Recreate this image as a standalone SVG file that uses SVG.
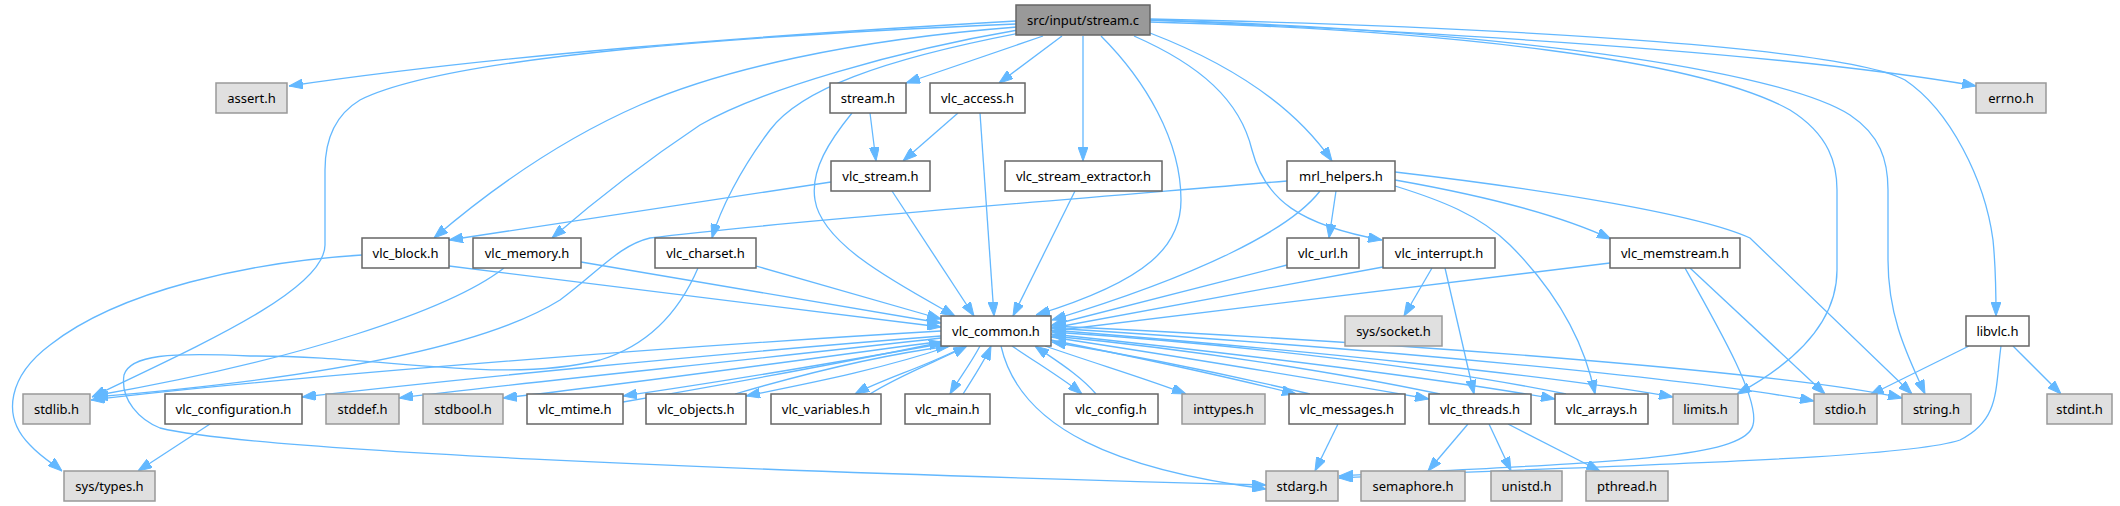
<svg xmlns="http://www.w3.org/2000/svg" width="2120" height="506" viewBox="0 0 2120 506">
<style>
.n rect{fill:#ffffff;stroke:#666666;stroke-width:1.5}
.r rect{fill:#999999;stroke:#666666;stroke-width:1.5}
.x rect{fill:#e0e0e0;stroke:#999999;stroke-width:1.5}
text{font-family:"Noto Sans","Liberation Sans",Arial,sans-serif;font-size:13px;fill:#000;text-anchor:middle}
#edges path{fill:none;stroke:#63b8ff;stroke-width:1.3;marker-end:url(#a)}
</style>
<defs>
<marker id="a" markerWidth="14" markerHeight="10" refX="14" refY="5" orient="auto" markerUnits="userSpaceOnUse">
<path d="M0,0 L14,5 L0,10 z" fill="#63b8ff" stroke="#63b8ff" stroke-width="1"/>
</marker>
</defs>
<rect width="2120" height="506" fill="#ffffff"/>
<g id="edges">
<path d="M1016,21 C750,36 500,55 289,86"/>
<path d="M1016,24 C760,35 450,55 360,100 C335,115 325,140 325,170 L325,245 C325,290 200,345 92,397"/>
<path d="M1017,27 C850,40 720,70 640,105 C560,140 490,190 434,238"/>
<path d="M1018,30 C900,50 760,90 700,125 C640,165 590,205 552,238"/>
<path d="M1020,33 C880,60 800,90 770,130 C740,170 720,210 712,238"/>
<path d="M1043,36 L906,83"/>
<path d="M1062,36 L999,83"/>
<path d="M1083,36 L1083,161"/>
<path d="M1101,36 C1145,80 1181,140 1181,200 C1181,245 1150,280 1036,315"/>
<path d="M1134,36 C1200,65 1240,100 1252,150 C1265,200 1300,225 1382,240"/>
<path d="M1150,33 C1220,60 1290,100 1332,161"/>
<path d="M1150,20 C1500,35 1800,55 1976,86"/>
<path d="M1150,22 C1450,30 1700,60 1790,110 C1830,135 1837,165 1837,190 L1837,270 C1837,320 1800,360 1737,394"/>
<path d="M1150,20 C1500,30 1780,70 1850,115 C1880,135 1888,160 1888,190 L1888,260 C1888,320 1910,360 1925,394"/>
<path d="M1150,19 C1550,28 1850,50 1905,80 C1950,110 1985,180 1993,240 C1996,270 1996,295 1996,316"/>
<path d="M870,113 L876,161"/>
<path d="M958,113 L903,161"/>
<path d="M852,113 C830,140 810,170 815,200 C822,245 900,285 955,316"/>
<path d="M980,113 L994,316"/>
<path d="M892,191 L974,316"/>
<path d="M1075,191 L1013,316"/>
<path d="M1320,191 C1290,230 1200,275 1052,320"/>
<path d="M1336,191 L1329,238"/>
<path d="M1395,180 C1480,195 1560,215 1611,239"/>
<path d="M1395,186 C1440,200 1480,215 1510,245 C1560,295 1585,345 1595,394"/>
<path d="M1395,172 C1550,190 1700,215 1750,238 L1912,394"/>
<path d="M1287,181 C1000,205 750,225 650,238 C620,245 600,270 560,300 C480,350 300,380 94,397"/>
<path d="M831,182 L449,240"/>
<path d="M449,266 L941,327"/>
<path d="M581,262 L941,323"/>
<path d="M756,266 L941,319"/>
<path d="M504,268 C450,310 300,360 93,396"/>
<path d="M362,255 C250,262 120,290 50,345 C10,375 0,415 30,445 C42,458 55,465 62,471"/>
<path d="M698,268 C680,310 650,345 600,360 C500,385 380,355 250,356 C170,352 130,355 124,375 C120,400 140,420 160,428 C250,450 700,470 1266,485"/>
<path d="M1001,346 C1020,430 1120,470 1266,489"/>
<path d="M1338,424 L1315,471"/>
<path d="M1685,268 C1720,330 1760,400 1753,425 C1745,460 1600,462 1339,476"/>
<path d="M2001,346 C1995,390 2000,420 1960,440 C1900,460 1600,465 1339,478"/>
<path d="M1969,346 L1870,395"/>
<path d="M2013,346 L2061,394"/>
<path d="M1690,268 L1825,394"/>
<path d="M1432,268 L1404,316"/>
<path d="M1445,268 L1474,394"/>
<path d="M1287,265 L1052,325"/>
<path d="M1383,267 L1052,328"/>
<path d="M1610,263 L1052,331"/>
<path d="M1468,424 L1428,471"/>
<path d="M1489,424 L1511,471"/>
<path d="M1508,424 L1600,471"/>
<path d="M210,424 L138,471"/>
<path d="M941,331 C700,345 300,375 91,400"/>
<path d="M941,336 C700,355 450,380 302,397"/>
<path d="M941,338 C750,360 500,385 399,398"/>
<path d="M944,341 C800,360 620,385 503,398"/>
<path d="M946,343 C850,360 700,385 623,396"/>
<path d="M623,402 C750,380 880,355 943,342"/>
<path d="M950,346 C880,370 800,385 746,396"/>
<path d="M735,394 C800,375 880,355 950,346"/>
<path d="M965,346 C930,365 880,380 855,394"/>
<path d="M870,394 C900,375 940,360 967,346"/>
<path d="M980,346 C970,365 958,380 950,394"/>
<path d="M963,394 C975,375 985,360 991,346"/>
<path d="M1012,346 C1040,365 1065,380 1082,394"/>
<path d="M1096,394 C1080,375 1055,360 1035,346"/>
<path d="M1045,346 C1100,365 1150,380 1186,394"/>
<path d="M1051,340 C1150,360 1240,380 1296,394"/>
<path d="M1310,394 C1230,375 1130,355 1052,342"/>
<path d="M1051,337 C1200,360 1350,385 1429,399"/>
<path d="M1440,394 C1350,375 1200,350 1052,336"/>
<path d="M1051,334 C1250,355 1450,380 1555,399"/>
<path d="M1566,394 C1450,370 1250,345 1052,332"/>
<path d="M1051,330 C1300,350 1550,375 1673,397"/>
<path d="M1051,328 C1400,350 1700,380 1814,401"/>
<path d="M1051,326 C1450,345 1800,375 1902,398"/>
</g>
<g id="node-stream-c" class="r"><rect x="1016" y="5" width="134" height="30"/><text x="1083" y="25">src/input/stream.c</text></g>
<g id="node-assert-h" class="x"><rect x="216" y="83" width="71" height="30"/><text x="251.5" y="103">assert.h</text></g>
<g id="node-stream-h" class="n"><rect x="830" y="83" width="76" height="30"/><text x="868" y="103">stream.h</text></g>
<g id="node-vlc-access-h" class="n"><rect x="930" y="83" width="95" height="30"/><text x="977.5" y="103">vlc_access.h</text></g>
<g id="node-errno-h" class="x"><rect x="1976" y="83" width="70" height="30"/><text x="2011" y="103">errno.h</text></g>
<g id="node-vlc-stream-h" class="n"><rect x="831" y="161" width="99" height="30"/><text x="880.5" y="181">vlc_stream.h</text></g>
<g id="node-vlc-stream-extractor-h" class="n"><rect x="1005" y="161" width="157" height="30"/><text x="1083.5" y="181">vlc_stream_extractor.h</text></g>
<g id="node-mrl-helpers-h" class="n"><rect x="1287" y="161" width="108" height="30"/><text x="1341" y="181">mrl_helpers.h</text></g>
<g id="node-vlc-block-h" class="n"><rect x="362" y="238" width="87" height="30"/><text x="405.5" y="258">vlc_block.h</text></g>
<g id="node-vlc-memory-h" class="n"><rect x="473" y="238" width="108" height="30"/><text x="527" y="258">vlc_memory.h</text></g>
<g id="node-vlc-charset-h" class="n"><rect x="655" y="238" width="101" height="30"/><text x="705.5" y="258">vlc_charset.h</text></g>
<g id="node-vlc-url-h" class="n"><rect x="1287" y="238" width="72" height="30"/><text x="1323" y="258">vlc_url.h</text></g>
<g id="node-vlc-interrupt-h" class="n"><rect x="1383" y="238" width="112" height="30"/><text x="1439" y="258">vlc_interrupt.h</text></g>
<g id="node-vlc-memstream-h" class="n"><rect x="1610" y="238" width="130" height="30"/><text x="1675" y="258">vlc_memstream.h</text></g>
<g id="node-vlc-common-h" class="n"><rect x="941" y="316" width="110" height="30"/><text x="996" y="336">vlc_common.h</text></g>
<g id="node-sys-socket-h" class="x"><rect x="1345" y="316" width="97" height="30"/><text x="1393.5" y="336">sys/socket.h</text></g>
<g id="node-libvlc-h" class="n"><rect x="1966" y="316" width="63" height="30"/><text x="1997.5" y="336">libvlc.h</text></g>
<g id="node-stdlib-h" class="x"><rect x="23" y="394" width="67" height="30"/><text x="56.5" y="414">stdlib.h</text></g>
<g id="node-vlc-configuration-h" class="n"><rect x="165" y="394" width="137" height="30"/><text x="233.5" y="414">vlc_configuration.h</text></g>
<g id="node-stddef-h" class="x"><rect x="326" y="394" width="73" height="30"/><text x="362.5" y="414">stddef.h</text></g>
<g id="node-stdbool-h" class="x"><rect x="423" y="394" width="80" height="30"/><text x="463" y="414">stdbool.h</text></g>
<g id="node-vlc-mtime-h" class="n"><rect x="527" y="394" width="96" height="30"/><text x="575" y="414">vlc_mtime.h</text></g>
<g id="node-vlc-objects-h" class="n"><rect x="646" y="394" width="100" height="30"/><text x="696" y="414">vlc_objects.h</text></g>
<g id="node-vlc-variables-h" class="n"><rect x="771" y="394" width="110" height="30"/><text x="826" y="414">vlc_variables.h</text></g>
<g id="node-vlc-main-h" class="n"><rect x="905" y="394" width="85" height="30"/><text x="947.5" y="414">vlc_main.h</text></g>
<g id="node-vlc-config-h" class="n"><rect x="1064" y="394" width="94" height="30"/><text x="1111" y="414">vlc_config.h</text></g>
<g id="node-inttypes-h" class="x"><rect x="1182" y="394" width="83" height="30"/><text x="1223.5" y="414">inttypes.h</text></g>
<g id="node-vlc-messages-h" class="n"><rect x="1289" y="394" width="116" height="30"/><text x="1347" y="414">vlc_messages.h</text></g>
<g id="node-vlc-threads-h" class="n"><rect x="1429" y="394" width="102" height="30"/><text x="1480" y="414">vlc_threads.h</text></g>
<g id="node-vlc-arrays-h" class="n"><rect x="1555" y="394" width="93" height="30"/><text x="1601.5" y="414">vlc_arrays.h</text></g>
<g id="node-limits-h" class="x"><rect x="1673" y="394" width="65" height="30"/><text x="1705.5" y="414">limits.h</text></g>
<g id="node-stdio-h" class="x"><rect x="1814" y="394" width="63" height="30"/><text x="1845.5" y="414">stdio.h</text></g>
<g id="node-string-h" class="x"><rect x="1902" y="394" width="69" height="30"/><text x="1936.5" y="414">string.h</text></g>
<g id="node-stdint-h" class="x"><rect x="2047" y="394" width="65" height="30"/><text x="2079.5" y="414">stdint.h</text></g>
<g id="node-sys-types-h" class="x"><rect x="64" y="471" width="91" height="30"/><text x="109.5" y="491">sys/types.h</text></g>
<g id="node-stdarg-h" class="x"><rect x="1266" y="471" width="72" height="30"/><text x="1302" y="491">stdarg.h</text></g>
<g id="node-semaphore-h" class="x"><rect x="1361" y="471" width="104" height="30"/><text x="1413" y="491">semaphore.h</text></g>
<g id="node-unistd-h" class="x"><rect x="1491" y="471" width="71" height="30"/><text x="1526.5" y="491">unistd.h</text></g>
<g id="node-pthread-h" class="x"><rect x="1586" y="471" width="82" height="30"/><text x="1627" y="491">pthread.h</text></g>
</svg>
